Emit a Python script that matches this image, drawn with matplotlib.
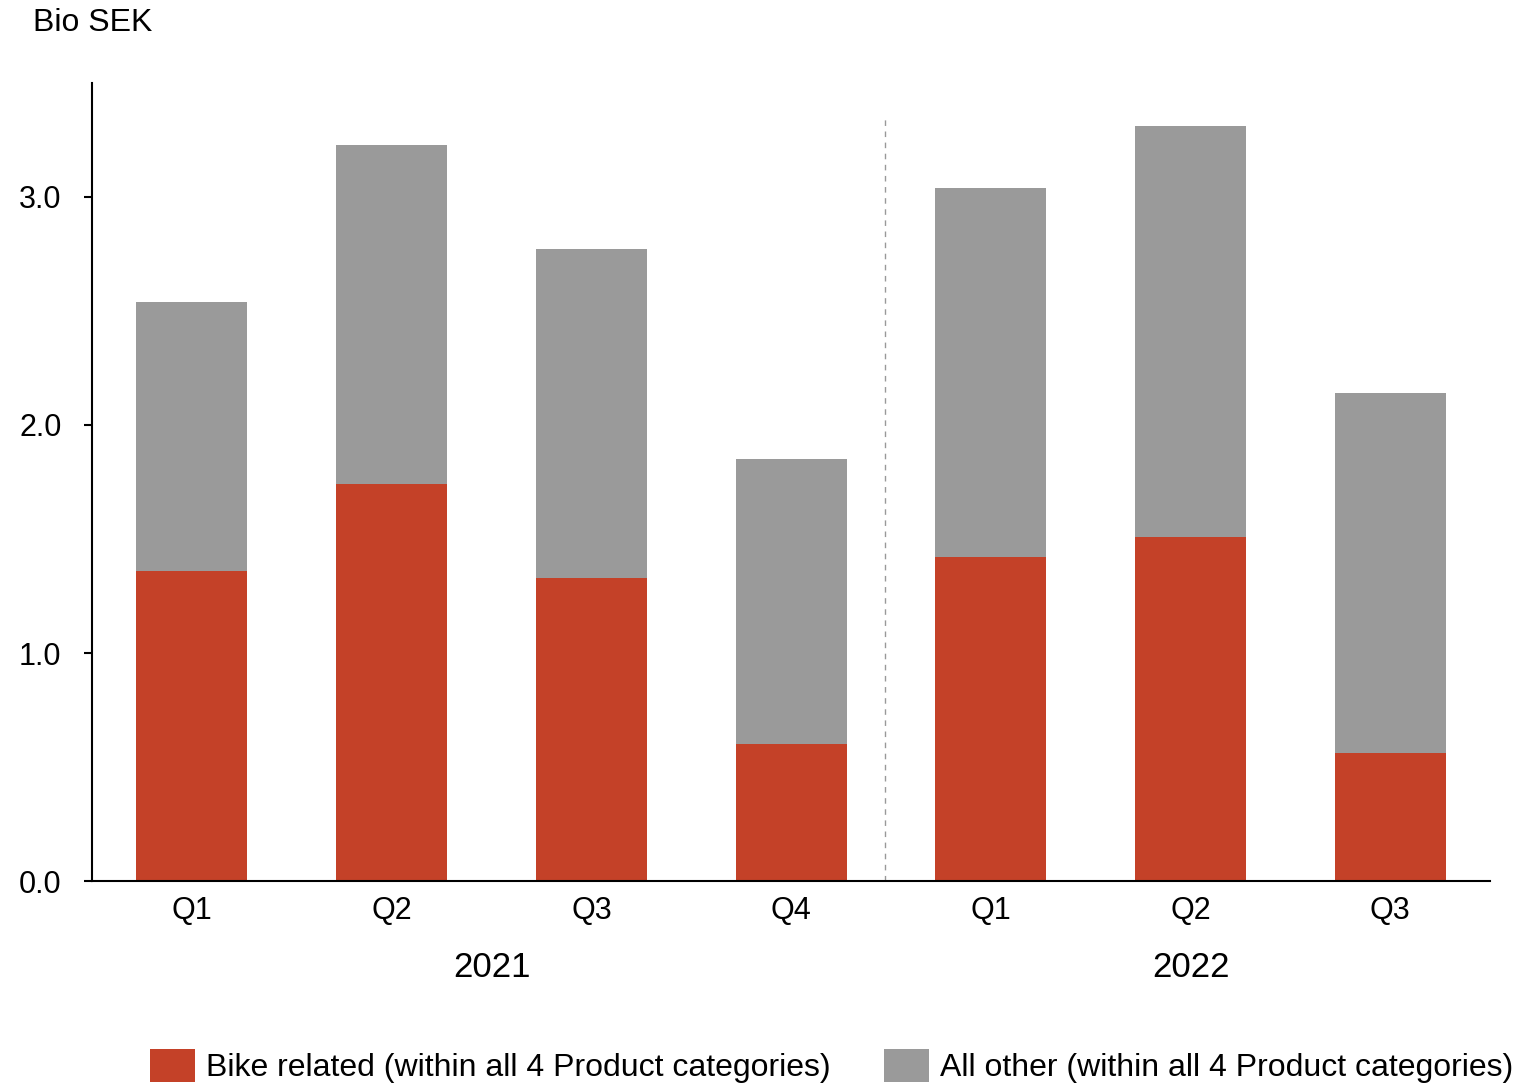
import numpy as np
import matplotlib.pyplot as plt

plt.rcParams['font.family'] = ['Liberation Sans', 'DejaVu Sans']

# Quarterly sales, Bio SEK
quarters = ['Q1', 'Q2', 'Q3', 'Q4', 'Q1', 'Q2', 'Q3']
years = ['2021', '2022']
year_spans = [(0, 3), (4, 6)]
bike_related = [1.36, 1.74, 1.33, 0.60, 1.42, 1.51, 0.56]
all_other = [1.18, 1.49, 1.44, 1.25, 1.62, 1.80, 1.58]

red = '#C44128'
grey = '#9A9A9A'

fig = plt.figure(figsize=(15.16, 10.83), dpi=100)
ax = fig.add_axes([0.0607, 0.1865, 0.9223, 0.7369])

x = np.arange(len(quarters))
ax.bar(x, bike_related, width=0.555, color=red,
       label='Bike related (within all 4 Product categories)')
ax.bar(x, all_other, width=0.555, bottom=bike_related, color=grey,
       label='All other (within all 4 Product categories)')

# separator between the two years
ax.vlines(3.47, 0, 3.34, colors='#999999', linewidth=1, linestyles=(0, (4, 4)))

ax.set_xlim(-0.5, 6.5)
ax.set_ylim(0, 3.5)
ax.set_yticks([0, 1, 2, 3])
ax.set_yticklabels(['0.0', '1.0', '2.0', '3.0'])
ax.set_xticks(x)
ax.set_xticklabels(quarters)

for s in ['top', 'right']:
    ax.spines[s].set_visible(False)
for s in ['left', 'bottom']:
    ax.spines[s].set_linewidth(1.5)

ax.tick_params(axis='y', labelsize=22, length=6, width=1.5, pad=16)
ax.tick_params(axis='x', labelsize=22, length=0, pad=11)

# year labels under the quarter ticks
for yr, (a, b) in zip(years, year_spans):
    ax.text((a + b) / 2, -0.38, yr, ha='center', va='center', fontsize=25,
            transform=ax.transData, clip_on=False)

fig.text(0.022, 0.979, 'Bio SEK', fontsize=23, ha='left', va='center')

leg = fig.legend(loc='lower center', bbox_to_anchor=(0.5485, -0.015), ncol=2,
                 frameon=False, fontsize=23, handlelength=1.41, handleheight=1.2,
                 handletextpad=0.35, columnspacing=1.65, borderpad=0)

fig.savefig('out.png', dpi=100)
